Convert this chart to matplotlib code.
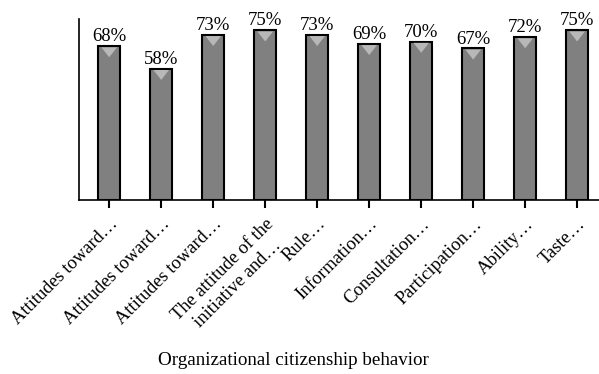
import matplotlib
matplotlib.use("Agg")
import matplotlib.pyplot as plt

plt.rcParams["font.family"] = ["Liberation Serif", "DejaVu Serif"]

# chart data
categories = [
    "Attitudes toward…",
    "Attitudes toward…",
    "Attitudes toward…",
    "The attitude of the\ninitiative and…",
    "Rule…",
    "Information…",
    "Consultation…",
    "Participation…",
    "Ability…",
    "Taste…",
]
percentages = [68, 58, 73, 75, 73, 69, 70, 67, 72, 75]
x_title = "Organizational citizenship behavior"


def main():
    fig = plt.figure(figsize=(5.99, 3.74), dpi=100)
    ax = fig.add_axes([0.132, 0.465, 0.868, 0.484])

    xs = list(range(len(categories)))
    bar_w = 0.42
    ax.bar(xs, percentages, width=bar_w, color="#808080",
           edgecolor="black", linewidth=1.5, zorder=2)

    # light triangle just under the top edge of each bar
    tri_half = 0.15
    tri_h = 4.4
    for x, v in zip(xs, percentages):
        top = v - 0.5
        ax.fill([x - tri_half, x + tri_half, x], [top, top, top - tri_h],
                color="#b8b8b8", linewidth=0, zorder=3)
        ax.text(x, v + 2.2, f"{v}%", ha="center", va="baseline",
                fontsize=13.5)

    ax.set_xlim(-0.58, 9.42)
    ax.set_ylim(0, 80)
    ax.set_yticks([])
    ax.spines["top"].set_visible(False)
    ax.spines["right"].set_visible(False)
    ax.spines["left"].set_linewidth(1.2)
    ax.spines["bottom"].set_linewidth(1.2)

    ax.set_xticks(xs)
    ax.set_xticklabels(categories, rotation=45, ha="right",
                       rotation_mode="anchor", fontsize=13.3,
                       linespacing=1.25, multialignment="center")
    ax.tick_params(axis="x", length=6, width=1.5, pad=5)

    fig.text(0.49, 0.037, x_title, ha="center", va="center", fontsize=13.7)

    fig.savefig("out.png", dpi=100)
    plt.close(fig)


if __name__ == "__main__":
    main()
